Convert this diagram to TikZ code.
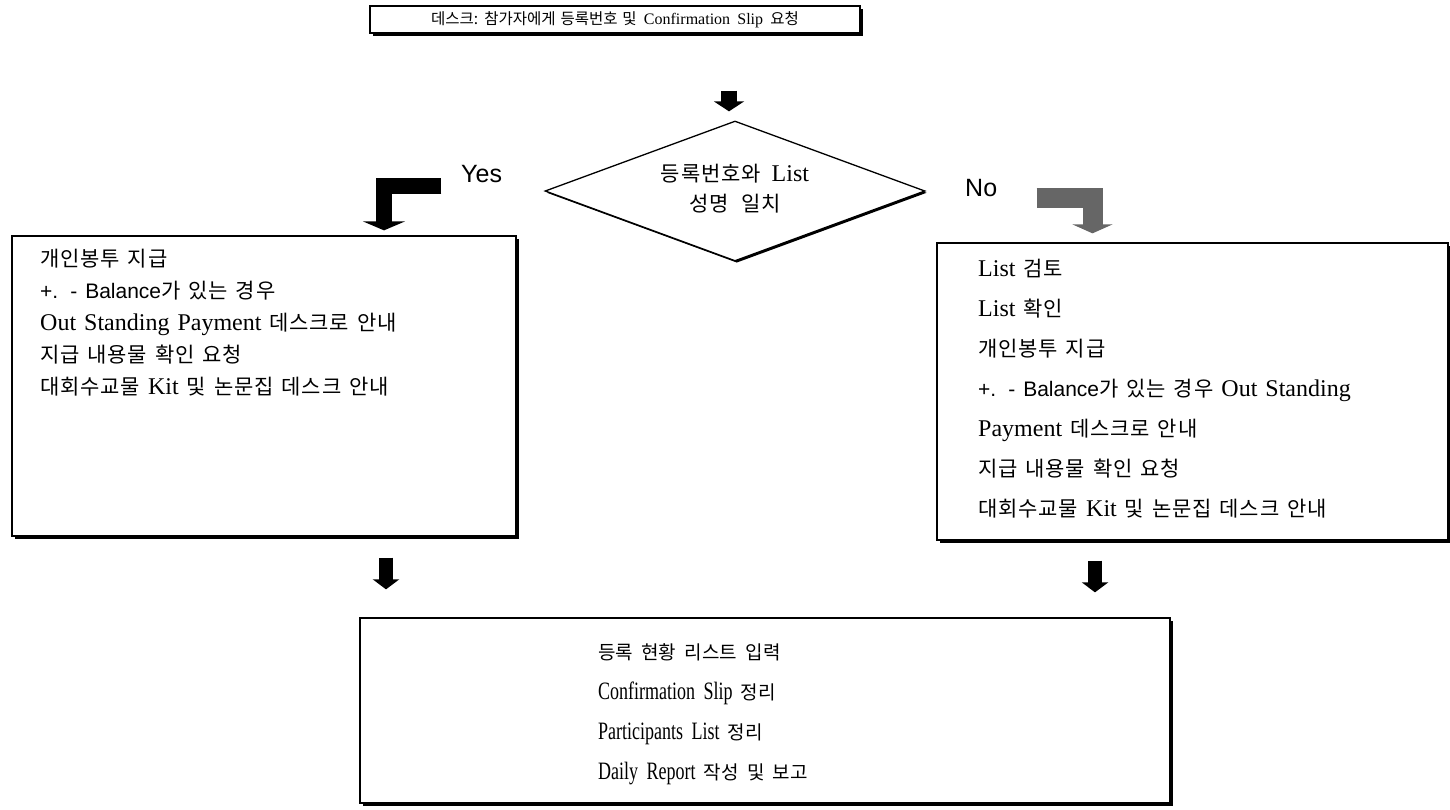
\documentclass[tikz,border=0pt]{standalone}
\usepackage{fontspec}
\setmainfont{Liberation Serif}[WordSpace=1.8]
\newfontfamily\krf{Noto Sans CJK KR}[Scale=0.875,WordSpace=2.2,LetterSpace=4]
\newfontfamily\krt{Noto Sans CJK KR}[Scale=0.97,WordSpace=1.4]
\newfontfamily\krb{Noto Sans CJK KR}[Scale=0.76,WordSpace=0.9]
\newfontfamily\cserif{Liberation Serif}[FakeStretch=0.72,WordSpace=1.5]
\newfontfamily\arf{Liberation Sans}[Scale=0.875,WordSpace=1.8]
\newfontfamily\lblf{Liberation Sans}
\newcommand\hk[1]{{\krf #1}}
\newcommand\hkt[1]{{\krt #1}}
\newcommand\hkb[1]{{\krb #1}}
\newcommand\arx[1]{{\arf #1}}
\usetikzlibrary{shapes.geometric,shadows,arrows.meta,calc}
\begin{document}
\begin{tikzpicture}[x=1pt,y=-1pt,
  box/.style={draw=black, line width=1.3pt, fill=white, inner sep=0pt,
    drop shadow={shadow xshift=2.5pt, shadow yshift=-2.5pt, fill=black, opacity=1}},
  dia/.style={diamond, draw=black, line width=1.3pt, fill=white, inner sep=0pt,
    minimum width=380pt, minimum height=140pt,
    drop shadow={shadow xshift=1.8pt, shadow yshift=-1.8pt, fill=black, opacity=1}},
  txt/.style={inner sep=0pt, align=left, anchor=base west},
  lbl/.style={inner sep=0pt, anchor=base west, font=\lblf\fontsize{25}{25}\selectfont},
  blk/.style={line width=16pt, -{Triangle[width=30pt,length=10pt]}},
  blksmall/.style={line width=14pt, -{Triangle[width=26pt,length=10pt]}},
  yesar/.style={line width=16pt, line join=miter, -{Triangle[width=42pt,length=9pt]}},
  noar/.style={draw=black!60, line width=20pt, line join=miter, -{Triangle[width=40pt,length=9pt]}}
]
\useasboundingbox (0,0) rectangle (1450,809);

% boxes
\node[box, minimum width=490pt, minimum height=27pt, font=\fontsize{16}{18}\selectfont] (T) at (615,19.5)
  {\hkt{데스크: 참가자에게 등록번호 및} Confirmation Slip \hkt{요청}};
\node[dia] (D) at (735,191) {};
\node[inner sep=0pt, align=center, font=\fontsize{24}{30}\selectfont] (Dt) at (735,189)
  {\hk{등록번호와} List\\ \hk{성명 일치}};

\node[box, minimum width=504pt, minimum height=300pt] (L) at (264,386) {};
\node[box, minimum width=511pt, minimum height=297pt] (R) at (1192.5,391.5) {};
\node[box, minimum width=810pt, minimum height=185pt] (B) at (765,710.5) {};

% texts
\node[txt, text width=470pt, font=\fontsize{24}{32}\selectfont] (Lt) at (40,266)
  {\hk{개인봉투 지급}\\
   \arx{+. - Balance}\hk{가 있는 경우}\\
   Out Standing Payment \hk{데스크로 안내}\\
   \hk{지급 내용물 확인 요청}\\
   \hk{대회수교물} Kit \hk{및 논문집 데스크 안내}};
\node[txt, text width=465pt, font=\fontsize{24}{40}\selectfont] (Rt) at (978,276)
  {List \hk{검토}\\
   List \hk{확인}\\
   \hk{개인봉투 지급}\\
   \arx{+. - Balance}\hk{가 있는 경우} Out Standing\\
   Payment \hk{데스크로 안내}\\
   \hk{지급 내용물 확인 요청}\\
   \hk{대회수교물} Kit \hk{및 논문집 데스크 안내}};
\node[txt, text width=500pt, font=\cserif\fontsize{25}{40}\selectfont] (Bt) at (598,659)
  {\hkb{등록 현황 리스트 입력}\\
   Confirmation Slip \hkb{정리}\\
   Participants List \hkb{정리}\\
   Daily Report \hkb{작성 및 보고}};

% labels
\node[lbl] (yes) at (461,182) {Yes};
\node[lbl] (no) at (965,196) {No};

% arrows
\draw[blk] ($(T.south -| D.north)+(-6,57)$) -- ($(D.north)+(-6,-9)$);
\draw[yesar] ($(D.west)+(-103,-5)$) -| ($(L.north)+(120,-5)$);
\draw[noar] ($(D.east)+(111,7)$) -| ($(R.north)+(-100,-9)$);
\draw[blksmall] ($(L.south)+(122,21)$) -- ($(L.south |- B.north)+(122,-28)$);
\draw[blksmall] ($(R.south)+(-97.5,20)$) -- ($(R.south |- B.north)+(-97.5,-25)$);
\end{tikzpicture}
\end{document}
